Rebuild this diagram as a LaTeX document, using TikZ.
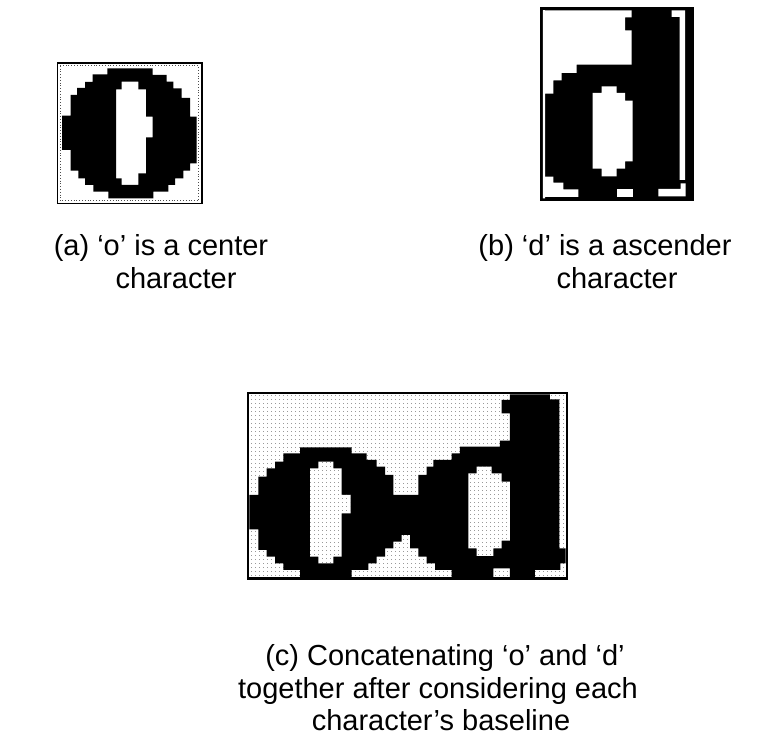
\documentclass[tikz,border=0pt]{standalone}
\usepackage{fontspec}
\setmainfont{Liberation Sans}
\usetikzlibrary{patterns,patterns.meta}
\tikzdeclarepattern{name=scandots, type=uncolored,
  bounding box={(0pt,0pt) and (4.2pt,4.2pt)}, tile size={(4.2pt,4.2pt)},
  code={\fill (0pt,0pt) rectangle (1.1pt,1.1pt);}}
\tikzset{
  ink/.style={fill=black, even odd rule},
  frameline/.style={draw=black, line width=#1},
  caption/.style={font=\fontsize{29}{33}\selectfont, anchor=base, inner sep=0pt},
  dotbg/.style={pattern=scandots, pattern color=black!40}
}
\begin{document}
\begin{tikzpicture}[x=1pt,y=-1pt]
\useasboundingbox[fill=white] (0,0) rectangle (780,735);

% ---------- (a) letter o ----------
\draw[frameline=1.8] (57.5,62.8) rectangle (202,203.5);
\draw[black!70, dotted, line width=0.8] (60.3,65.8) rectangle (198.5,200.8);
\fill[ink] (107.3,68.3) -- (152.7,68.3) -- (152.7,75) -- (166.7,75) -- (166.7,81.7)
 -- (173.3,81.7) -- (173.3,88.3) -- (181.7,88.3) -- (181.7,98) -- (190,98)
 -- (190,116.7) -- (196.7,116.7) -- (196.7,163.3) -- (190,163.3) -- (190,170.7)
 -- (183.3,170.7) -- (183.3,178.3) -- (175,178.3) -- (175,185) -- (168.3,185)
 -- (168.3,191.7) -- (153.3,191.7) -- (153.3,198.3) -- (108.3,198.3) -- (108.3,191.7)
 -- (93.3,191.7) -- (93.3,185) -- (85,185) -- (85,178.3) -- (78.3,178.3)
 -- (78.3,170.7) -- (70.7,170.7) -- (70.7,150) -- (62,150) -- (62,115.7)
 -- (70.7,115.7) -- (70.7,95) -- (77,95) -- (77,88) -- (85,88) -- (85,82)
 -- (92.7,82) -- (92.7,74.3) -- (107.3,74.3) -- cycle
 (121.7,81.7) -- (138.3,81.7) -- (138.3,89.3) -- (146,89.3) -- (146,116.7)
 -- (152.7,116.7) -- (152.7,137.3) -- (146,137.3) -- (146,173.3) -- (138.3,173.3)
 -- (138.3,185) -- (121.7,185) -- (121.7,178.3) -- (116,178.3) -- (116,89.3)
 -- (121.7,89.3) -- cycle;
\node[caption] (capa1) at (161,256) {(a) ‘o’ is a center};
\node[caption] (capa2) at (176,289) {character};

% ---------- (b) letter d ----------
\draw[frameline=3] (541.3,9) rectangle (692.3,200);
\fill[black] (545,10.5) rectangle (691,198.5);
\fill[white] (542.8,10.5) -- (631.7,10.5) -- (631.7,17.5) -- (625,17.5) -- (625,30.5)
 -- (631.7,30.5) -- (631.7,64.7) -- (576.7,64.7) -- (576.7,73) -- (561.7,73)
 -- (561.7,80.3) -- (553.3,80.3) -- (553.3,93.7) -- (545,93.7) -- (545,198.5)
 -- (542.8,198.5) -- cycle;
\fill[white] (671.7,10.5) -- (685,10.5) -- (685,180) -- (679.5,180) -- (679.5,17)
 -- (671.7,17) -- cycle;
\fill[white] (680.5,183.3) -- (685.5,183.3) -- (685.5,196.5) -- (658.3,196.5)
 -- (658.3,189) -- (680.5,189) -- cycle;
\fill[white] (545,176.7) -- (553.3,176.7) -- (553.3,182.7) -- (563.3,182.7)
 -- (563.3,189.3) -- (578.3,189.3) -- (578.3,197) -- (545,197) -- cycle;
\fill[white] (616.5,189) rectangle (633.3,197);
\fill[white] (601.7,86.3) -- (616.7,86.3) -- (616.7,93) -- (625,93) -- (625,100.7)
 -- (632.7,100.7) -- (632.7,161.3) -- (625,161.3) -- (625,168.7) -- (616.7,168.7)
 -- (616.7,176.3) -- (601.7,176.3) -- (601.7,168.7) -- (592.7,168.7) -- (592.7,93)
 -- (601.7,93) -- cycle;
\node[caption] (capb1) at (605,256) {(b) ‘d’ is a ascender};
\node[caption] (capb2) at (617,289) {character};

% ---------- (c) o and d concatenated ----------
\begin{scope}[shift={(230,300)}, scale=1/3]
\fill[white] (58,283) rectangle (1007,832);
\fill[dotbg] (58,283) rectangle (1007,832);
\fill[ink] (210,442) -- (365,442) -- (365,460) -- (410,460) -- (410,480) -- (440,480)
 -- (440,500) -- (465,500) -- (465,525) -- (490,525) -- (490,585) -- (565,585)
 -- (565,525) -- (590,525) -- (590,500) -- (610,500) -- (610,480) -- (665,480)
 -- (665,460) -- (690,460) -- (690,440) -- (810,440) -- (810,422) -- (840,422)
 -- (840,340) -- (815,340) -- (815,300) -- (840,300) -- (840,283) -- (960,283)
 -- (960,298) -- (988,298) -- (988,745) -- (1007,745) -- (1007,790) -- (991,790)
 -- (991,810) -- (915,810) -- (915,832) -- (840,832) -- (840,805) -- (790,805)
 -- (790,832) -- (665,832) -- (665,810) -- (615,810) -- (615,790) -- (590,790)
 -- (590,770) -- (565,770) -- (565,745) -- (540,745) -- (540,705) -- (515,705)
 -- (515,725) -- (490,725) -- (490,745) -- (465,745) -- (465,770) -- (440,770)
 -- (440,790) -- (415,790) -- (415,810) -- (365,810) -- (365,832) -- (210,832)
 -- (210,810) -- (160,810) -- (160,790) -- (135,790) -- (135,770) -- (110,770)
 -- (110,750) -- (85,750) -- (85,688) -- (58,688) -- (58,585) -- (85,585)
 -- (85,530) -- (110,530) -- (110,505) -- (135,505) -- (135,485) -- (160,485)
 -- (160,460) -- (210,460) -- cycle;
\fill[white] (265,485) -- (310,485) -- (310,505) -- (335,505) -- (335,585) -- (362,585)
 -- (362,640) -- (335,640) -- (335,770) -- (310,770) -- (310,790) -- (265,790)
 -- (265,770) -- (240,770) -- (240,505) -- (265,505) -- cycle
 (740,500) -- (785,500) -- (785,520) -- (815,520) -- (815,545) -- (840,545)
 -- (840,722) -- (815,722) -- (815,745) -- (790,745) -- (790,768) -- (740,768)
 -- (740,745) -- (715,745) -- (715,520) -- (740,520) -- cycle;
\fill[dotbg] (265,485) -- (310,485) -- (310,505) -- (335,505) -- (335,585) -- (362,585)
 -- (362,640) -- (335,640) -- (335,770) -- (310,770) -- (310,790) -- (265,790)
 -- (265,770) -- (240,770) -- (240,505) -- (265,505) -- cycle
 (740,500) -- (785,500) -- (785,520) -- (815,520) -- (815,545) -- (840,545)
 -- (840,722) -- (815,722) -- (815,745) -- (790,745) -- (790,768) -- (740,768)
 -- (740,745) -- (715,745) -- (715,520) -- (740,520) -- cycle;
\draw[frameline=2.7] (54,279) rectangle (1011,836);
\end{scope}
\node[caption] (capc1) at (445,665) {(c) Concatenating ‘o’ and ‘d’};
\node[caption] (capc2) at (438,698) {together after considering each};
\node[caption] (capc3) at (441,730) {character’s baseline};
\end{tikzpicture}
\end{document}
